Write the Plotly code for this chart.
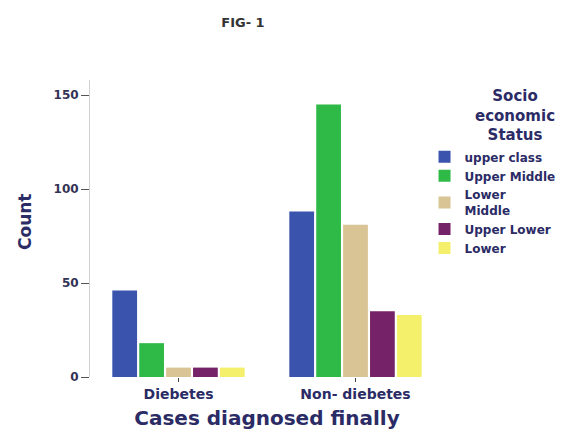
import plotly.graph_objects as go

categories = ["Diebetes", "Non- diebetes"]
series_names = ["upper class", "Upper Middle", "Lower<br>Middle", "Upper Lower", "Lower"]
upper_class = [46, 88]
upper_middle = [18, 145]
lower_middle = [5, 81]
upper_lower = [5, 35]
lower = [5, 33]
values = [upper_class, upper_middle, lower_middle, upper_lower, lower]
colors = ["#3a53ad", "#2fb947", "#d8c494", "#762268", "#f4f06c"]

navy = "#2b2b66"
W, H = 573, 428  # page has an 8px body margin
PL, PT, PW, PH = 82, 72, 354, 297
fig = go.Figure()
for name, vals, col in zip(series_names, values, colors):
    fig.add_trace(go.Bar(x=categories, y=vals, name=name, marker=dict(color=col, line=dict(width=0))))

fig.update_layout(
    width=W, height=H,
    plot_bgcolor="white", paper_bgcolor="white",
    barmode="group", bargap=0.24, bargroupgap=0.08,
    margin=dict(l=PL, r=W - PL - PW, t=PT, b=H - PT - PH, autoexpand=False),
    title=dict(text="<b>FIG- 1</b>", x=235 / W, xanchor="center", y=1 - 14 / H, yanchor="middle",
               font=dict(family="DejaVu Sans", size=13, color="#333333")),
    font=dict(family="DejaVu Sans", color=navy),
    legend=dict(
        x=0.945, xanchor="left", y=0.79, yanchor="top",
        font=dict(family="DejaVu Sans", size=12, color=navy, weight="bold"),
        tracegroupgap=0, itemwidth=30,
    ),
    showlegend=True,
    annotations=[
        dict(text="<b>Socio<br>economic<br>Status</b>", xref="paper", yref="paper",
             x=(507 - PL) / PW, y=1 - (107 - PT) / PH, xanchor="center", yanchor="middle",
             showarrow=False, align="center",
             font=dict(family="DejaVu Sans", size=15, color=navy)),
        dict(text="<b>Count</b>", xref="paper", yref="paper", textangle=-90,
             x=(17 - PL) / PW, y=1 - (214 - PT) / PH, xanchor="center", yanchor="middle",
             showarrow=False, font=dict(family="DejaVu Sans", size=17, color=navy)),
    ],
)
fig.update_yaxes(
    range=[0, 158], tickvals=[0, 50, 100, 150], showgrid=False, zeroline=False,
    showline=True, linecolor="#d0d0d0", linewidth=1, automargin=False,
    ticks="outside", ticklen=8, tickcolor="#555555",
    tickfont=dict(family="DejaVu Sans", size=12, color="#333355", weight="bold"),
)
fig.update_xaxes(
    showgrid=False, showline=False, ticks="outside", ticklen=4, tickcolor="#444444", automargin=False,
    tickfont=dict(family="DejaVu Sans", size=14, color=navy, weight="bold"),
    title=dict(text="<b>Cases diagnosed finally</b>", font=dict(family="DejaVu Sans", size=20, color=navy), standoff=10),
)
fig.write_html("out.html")
